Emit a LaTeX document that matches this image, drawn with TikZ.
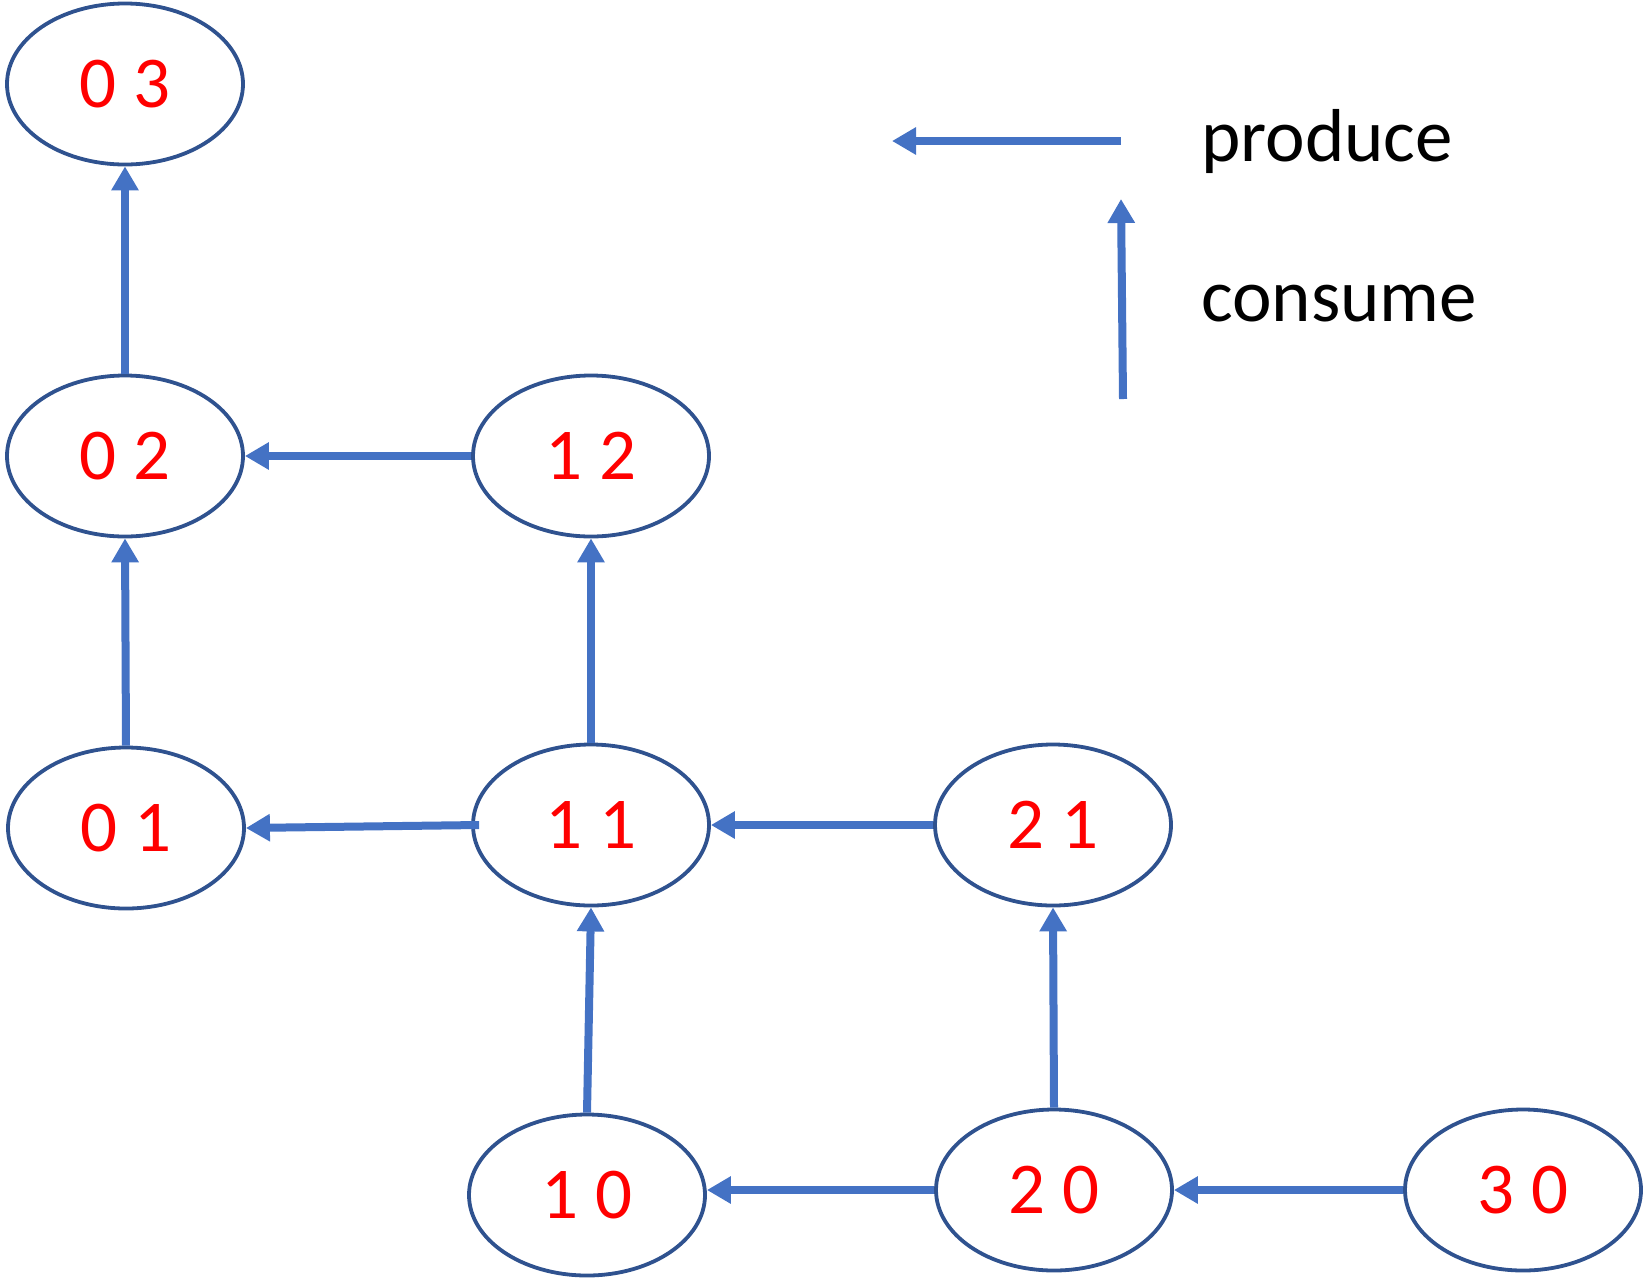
\documentclass[tikz,border=0pt]{standalone}
\usepackage{fontspec}
\setmainfont{Carlito}
\usetikzlibrary{
        arrows.meta,
        positioning,
        shapes.geometric
    }
\definecolor{arrowblue}{HTML}{4472C4}
\definecolor{rimblue}{HTML}{2F528F}
\tikzset{>={Triangle[width=26pt,length=24pt]},shorten >=0pt}
\tikzset{cell/.style={ellipse,draw=rimblue,line width=3.8pt,minimum width=236pt,minimum height=161pt,inner sep=0pt,text=red,font=\fontsize{73}{80}\selectfont}}
\tikzset{legend/.style={inner sep=0pt,anchor=west,font=\fontsize{75}{82}\selectfont}}
\tikzset{flow/.style={->,draw=arrowblue,line width=8pt}}

\begin{document}
\begin{tikzpicture}[x=1pt,y=-1pt]
                    \useasboundingbox (0,0) rectangle (1646,1283);

                        \node[cell] (c03) at (125,84)   {0 3};
                        \node[cell] (c02) at (125,456)  {0 2};
                        \node[cell] (c12) at (591,456)  {1 2};
                        \node[cell] (c01) at (126,828)  {0 1};
                        \node[cell] (c11) at (591,825)  {1 1};
                        \node[cell] (c21) at (1053,825) {2 1};
                        \node[cell] (c10) at (587,1195) {1 0};
                        \node[cell] (c20) at (1054,1190) {2 0};
                        \node[cell] (c30) at (1523,1190) {3 0};

                        \coordinate (prodtail) at (1121,141);
                        \coordinate (prodtip)  at (892,141);
                        \coordinate (constail) at (1123,399);
                        \coordinate (constip)  at (1121,199);
                        \node[legend] (prodtext) at (1201,141) {produce};
                        \node[legend] (constext) at (1201,304) {consume};

                    \draw[flow] (c02.north) -- (c03.south);
                    \draw[flow] (c12.west)  -- (c02.east);
                    \draw[flow] (c01.north) -- (c02.south);
                    \draw[flow] (c11.north) -- (c12.south);
                    \draw[flow] ([xshift=8pt]c11.west) -- (c01.east);
                    \draw[flow] (c21.west)  -- (c11.east);
                    \draw[flow] (c10.north) -- (c11.south);
                    \draw[flow] (c20.north) -- (c21.south);
                    \draw[flow] (c20.west)  -- (c20.west -| c10.east);
                    \draw[flow] (c30.west)  -- (c20.east);
                    \draw[flow] (prodtail)  -- (prodtip);
                    \draw[flow] (constail)  -- (constip);
                    \end{tikzpicture}
\end{document}
